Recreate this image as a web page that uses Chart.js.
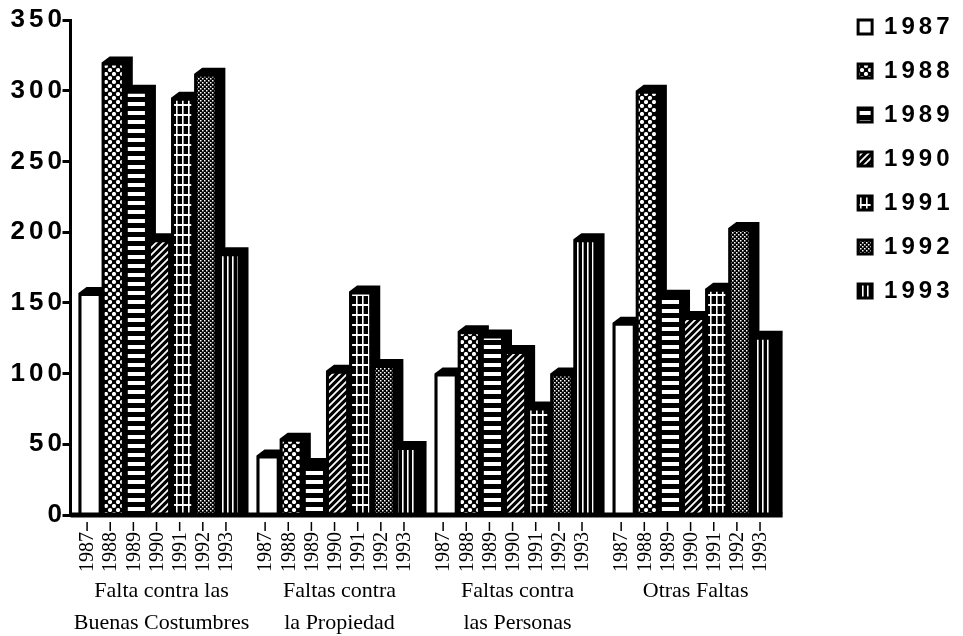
<!DOCTYPE html>
<html lang="es">
<head>
<meta charset="UTF-8">
<title>Faltas 1987-1993</title>
<script src="https://cdn.jsdelivr.net/npm/chart.js"></script>
<style>
  html, body { margin: 0; padding: 0; background: #fff; }
  #wrap { width: 963px; height: 636px; }
</style>
</head>
<body>
<div id="wrap"><canvas id="chart" width="963" height="636"></canvas></div>
<script>
// categories (two-line labels) and one series per year
const categories = [
    ['Falta contra las', 'Buenas Costumbres'],
    ['Faltas contra', 'la Propiedad'],
    ['Faltas contra', 'las Personas'],
    ['Otras Faltas']
];
const years = ['1987', '1988', '1989', '1990', '1991', '1992', '1993'];
const v1987 = [157, 42, 100, 136];
const v1988 = [320, 54, 130, 300];
const v1989 = [300, 36, 127, 155];
const v1990 = [195, 102, 116, 140];
const v1991 = [295, 158, 76, 160];
const v1992 = [312, 106, 100, 203];
const v1993 = [185, 48, 195, 126];
const yMin = 0, yMax = 350, yStep = 50;

const DX = 8, DY = 6;   // fake 3d depth of the bars

const canvas = document.getElementById('chart');
const mainCtx = canvas.getContext('2d');

function makePattern(w, h, paint) {
    const c = document.createElement('canvas');
    c.width = w;
    c.height = h;
    const g = c.getContext('2d');
    g.fillStyle = '#000';
    g.fillRect(0, 0, w, h);
    g.fillStyle = '#fff';
    g.strokeStyle = '#fff';
    paint(g, w, h);
    return mainCtx.createPattern(c, 'repeat');
}

const fills = [
    '#ffffff',
    makePattern(8, 8, g => {
        g.beginPath(); g.arc(2, 2, 2.1, 0, Math.PI * 2); g.fill();
        g.beginPath(); g.arc(6, 6, 2.1, 0, Math.PI * 2); g.fill();
    }),
    makePattern(10, 9, g => g.fillRect(0, 3, 10, 4)),
    makePattern(7, 7, g => {
        g.lineWidth = 1.8;
        g.beginPath();
        g.moveTo(0, 7); g.lineTo(7, 0);
        g.moveTo(-1, 1); g.lineTo(1, -1);
        g.moveTo(6, 8); g.lineTo(8, 6);
        g.stroke();
    }),
    makePattern(6, 10, g => {
        g.fillRect(2, 0, 1.6, 10);
        g.fillRect(0, 4, 6, 2);
    }),
    makePattern(4, 4, g => {
        g.fillRect(0, 0, 1.5, 1.5);
        g.fillRect(2, 2, 1.5, 1.5);
    }),
    makePattern(5, 4, g => g.fillRect(2, 0, 1.6, 4))
];

const series = [v1987, v1988, v1989, v1990, v1991, v1992, v1993];

const datasets = years.map((yr, i) => ({
    label: yr,
    data: series[i],
    backgroundColor: fills[i],
    borderColor: '#000',
    borderWidth: 3,
    categoryPercentage: 0.91,
    barPercentage: 1.0
}));

// canvas letter spacing for the wide bold digits of the axis and legend
const spacingPlugin = {
    id: 'spacing',
    beforeUpdate(chart) { chart.ctx.letterSpacing = '4px'; },
    beforeDraw(chart) { chart.ctx.letterSpacing = '4px'; }
};

// black side/top block behind each bar
const depthPlugin = {
    id: 'depth',
    beforeDatasetsDraw(chart) {
        const ctx = chart.ctx;
        ctx.save();
        ctx.fillStyle = '#000';
        chart.data.datasets.forEach((ds, i) => {
            chart.getDatasetMeta(i).data.forEach(bar => {
                const p = bar.getProps(['x', 'y', 'base', 'width'], true);
                const l = p.x - p.width / 2, r = p.x + p.width / 2;
                ctx.beginPath();
                ctx.moveTo(l, p.y);
                ctx.lineTo(l + DX, p.y - DY);
                ctx.lineTo(r + DX, p.y - DY);
                ctx.lineTo(r + DX, p.base);
                ctx.lineTo(l, p.base);
                ctx.closePath();
                ctx.fill();
            });
        });
        ctx.restore();
    }
};

// floor line, year ticks under every bar and the group names
const labelsPlugin = {
    id: 'labels',
    afterDraw(chart) {
        const ctx = chart.ctx;
        const area = chart.chartArea;
        const xs = chart.scales.x;
        ctx.save();
        ctx.letterSpacing = '0px';

        let lastRight = area.left;
        chart.data.datasets.forEach((ds, i) => {
            chart.getDatasetMeta(i).data.forEach(bar => {
                lastRight = Math.max(lastRight, bar.x + bar.width / 2 + DX);
            });
        });
        ctx.strokeStyle = '#000';
        ctx.lineWidth = 5;
        ctx.beginPath();
        ctx.moveTo(area.left, area.bottom);
        ctx.lineTo(lastRight, area.bottom);
        ctx.stroke();

        ctx.fillStyle = '#000';
        ctx.font = '20px "Liberation Serif", "Times New Roman", serif';
        ctx.textAlign = 'right';
        ctx.textBaseline = 'middle';
        ctx.lineWidth = 1.5;
        chart.data.datasets.forEach((ds, i) => {
            chart.getDatasetMeta(i).data.forEach(bar => {
                const x = bar.x - 3;
                ctx.beginPath();
                ctx.moveTo(x, area.bottom + 7);
                ctx.lineTo(x, area.bottom + 16);
                ctx.stroke();
                ctx.save();
                ctx.translate(x, area.bottom + 17);
                ctx.rotate(-Math.PI / 2);
                ctx.fillText(ds.label, 0, 1);
                ctx.restore();
            });
        });

        ctx.font = '22px "Liberation Serif", "Times New Roman", serif';
        ctx.textAlign = 'center';
        chart.data.labels.forEach((lines, i) => {
            const cx = xs.getPixelForValue(i) + 2;
            lines.forEach((t, k) => {
                ctx.fillText(t, cx, area.bottom + 76 + k * 32);
            });
        });
        ctx.restore();
    }
};

new Chart(canvas, {
    type: 'bar',
    data: {
        labels: categories,
        datasets: datasets
    },
    options: {
        responsive: false,
        animation: false,
        events: [],
        layout: {
            padding: { left: 10.5, right: -0.5, top: -5, bottom: 121 }
        },
        scales: {
            x: {
                display: false
            },
            xTop: {
                axis: 'x',
                type: 'category',
                position: 'top',
                afterFit: s => { s.height = 25; },
                ticks: { display: false },
                grid: { display: false },
                border: { display: false }
            },
            y: {
                min: yMin,
                max: yMax,
                afterFit: s => { s.width = 60; },
                ticks: {
                    stepSize: yStep,
                    color: '#000',
                    padding: -3.5,
                    font: { family: 'Liberation Sans', weight: 'bold', size: 26 }
                },
                grid: {
                    drawOnChartArea: false,
                    drawTicks: true,
                    tickLength: 8,
                    lineWidth: 3,
                    color: '#000'
                },
                border: { display: true, width: 3, color: '#000' }
            },
            yPad: {
                axis: 'y',
                type: 'linear',
                position: 'right',
                afterFit: s => { s.width = 55.5; },
                ticks: { display: false },
                grid: { display: false },
                border: { display: false }
            }
        },
        plugins: {
            legend: {
                position: 'right',
                align: 'start',
                labels: {
                    color: '#000',
                    boxWidth: 14,
                    boxHeight: 14,
                    padding: 20,
                    font: { family: 'Liberation Sans', weight: 'bold', size: 24 }
                }
            },
            tooltip: { enabled: false }
        }
    },
    plugins: [spacingPlugin, depthPlugin, labelsPlugin]
});
</script>
</body>
</html>
